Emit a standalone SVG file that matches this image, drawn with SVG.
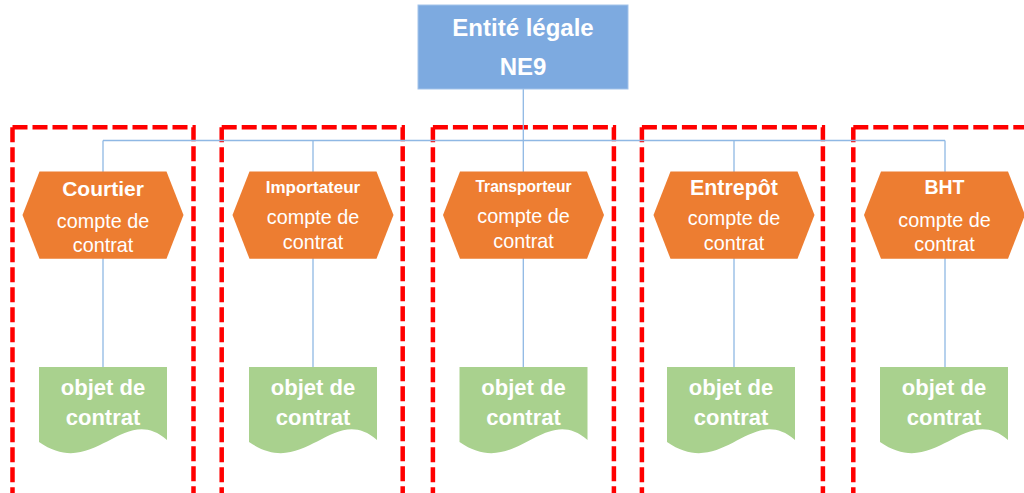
<svg xmlns="http://www.w3.org/2000/svg" xmlns:xlink="http://www.w3.org/1999/xlink" width="1024" height="493" viewBox="0 0 1024 493">
<style>
.frame{fill:none;stroke:#FF0000;stroke-width:4.5;stroke-dasharray:15 5}
.conn{fill:none;stroke:#8FB8E4;stroke-width:1.3}
.hex{fill:#ED7D31}
.doc{fill:#A9D18E}
.t{font-family:"Liberation Sans",Arial,sans-serif;fill:#FFFFFF;text-anchor:middle}
.b{font-weight:bold}
.r{font-size:19.8px}
</style>
<defs>
<polygon id="hex" points="-80.5,215 -63.5,171.5 63.5,171.5 80.5,215 63.5,258.8 -63.5,258.8"/>
<path id="docshape" d="M-64,367 H64 V440 C20,402 -8,481 -64,442 Z"/>
</defs>
<rect width="1024" height="493" fill="#FFFFFF"/>
<g id="frames">
<path class="frame" d="M12.5,127.3 H193.5 V493"/><path class="frame" d="M12.5,127.3 V493"/>
<path class="frame" d="M221.7,127.3 H402.7 V493"/><path class="frame" d="M221.7,127.3 V493"/>
<path class="frame" d="M432.9,127.3 H613.9 V493"/><path class="frame" d="M432.9,127.3 V493"/>
<path class="frame" d="M641.9,127.3 H822.9 V493"/><path class="frame" d="M641.9,127.3 V493"/>
<path class="frame" d="M853.3,127.3 H1034 V493"/><path class="frame" d="M853.3,127.3 V493"/>
</g>
<g id="connectors">
<path class="conn" d="M523.3,89 V140.5"/>
<path class="conn" d="M103,140.5 H945"/>
<path class="conn" d="M103,140.5 V367"/>
<path class="conn" d="M313,140.5 V367"/>
<path class="conn" d="M523.3,140.5 V367"/>
<path class="conn" d="M734,140.5 V367"/>
<path class="conn" d="M945,140.5 V367"/>
</g>
<g id="root">
<rect x="418" y="5" width="210" height="84" fill="#7DAAE0" stroke="#A3C3EA" stroke-width="1"/>
<text class="t b" x="523" y="36" font-size="24">Entité légale</text>
<text class="t b" x="523" y="75" font-size="24">NE9</text>
</g>
<g id="courtier">
<use xlink:href="#hex" class="hex" x="103"/>
<text class="t b" x="103" y="196" font-size="21">Courtier</text>
<text class="t r" x="103" y="228">compte de</text>
<text class="t r" x="103" y="252">contrat</text>
</g>
<g id="importateur">
<use xlink:href="#hex" class="hex" x="313"/>
<text class="t b" x="313" y="193" font-size="17">Importateur</text>
<text class="t r" x="313" y="224">compte de</text>
<text class="t r" x="313" y="249">contrat</text>
</g>
<g id="transporteur">
<use xlink:href="#hex" class="hex" x="523.5"/>
<text class="t b" x="523.5" y="192" font-size="15.6">Transporteur</text>
<text class="t r" x="523.5" y="223">compte de</text>
<text class="t r" x="523.5" y="247.5">contrat</text>
</g>
<g id="entrepot">
<use xlink:href="#hex" class="hex" x="734"/>
<text class="t b" x="734" y="194.5" font-size="21.4">Entrepôt</text>
<text class="t r" x="734" y="225">compte de</text>
<text class="t r" x="734" y="250">contrat</text>
</g>
<g id="bht">
<use xlink:href="#hex" class="hex" x="944.5"/>
<text class="t b" x="944.5" y="194" font-size="19.5">BHT</text>
<text class="t r" x="944.5" y="226.5">compte de</text>
<text class="t r" x="944.5" y="250.5">contrat</text>
</g>
<g id="doc1">
<use xlink:href="#docshape" class="doc" x="103"/>
<text class="t b" x="103" y="395" font-size="22">objet de</text>
<text class="t b" x="103" y="424.5" font-size="22">contrat</text>
</g>
<g id="doc2">
<use xlink:href="#docshape" class="doc" x="313"/>
<text class="t b" x="313" y="395" font-size="22">objet de</text>
<text class="t b" x="313" y="424.5" font-size="22">contrat</text>
</g>
<g id="doc3">
<use xlink:href="#docshape" class="doc" x="523.5"/>
<text class="t b" x="523.5" y="395" font-size="22">objet de</text>
<text class="t b" x="523.5" y="424.5" font-size="22">contrat</text>
</g>
<g id="doc4">
<use xlink:href="#docshape" class="doc" x="731"/>
<text class="t b" x="731" y="395" font-size="22">objet de</text>
<text class="t b" x="731" y="424.5" font-size="22">contrat</text>
</g>
<g id="doc5">
<use xlink:href="#docshape" class="doc" x="944"/>
<text class="t b" x="944" y="395" font-size="22">objet de</text>
<text class="t b" x="944" y="424.5" font-size="22">contrat</text>
</g>
</svg>
